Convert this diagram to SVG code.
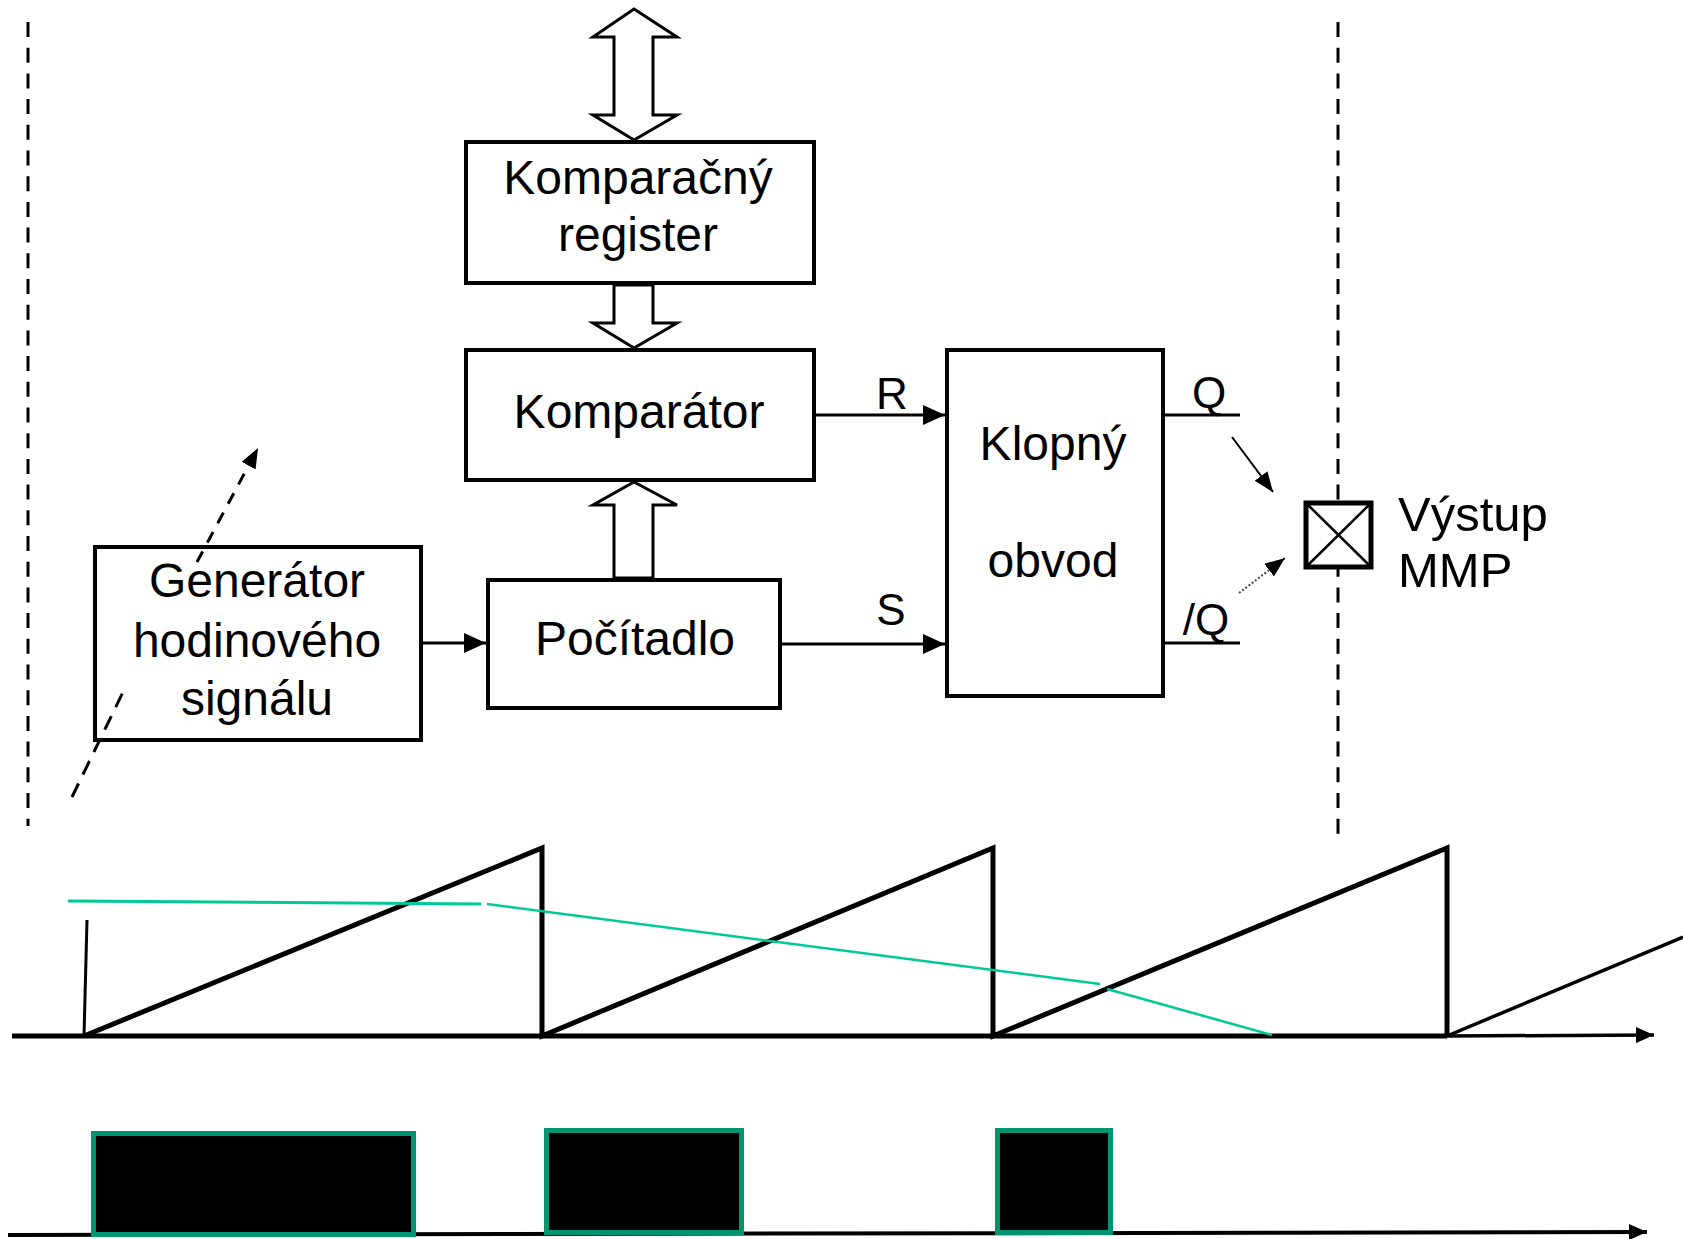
<svg xmlns="http://www.w3.org/2000/svg" width="1683" height="1239" viewBox="0 0 1683 1239">
<defs>
<style>
.box{fill:#fff;stroke:#000;stroke-width:4}
.t{font-family:"Liberation Sans",Arial,sans-serif;font-size:48px;fill:#000;text-anchor:middle}
.lbl{font-family:"Liberation Sans",Arial,sans-serif;font-size:44px;fill:#000;text-anchor:middle}
.bus{fill:#fff;stroke:#000;stroke-width:3;stroke-linejoin:miter}
.wire{fill:none;stroke:#000;stroke-width:3}
.vdash{fill:none;stroke:#000;stroke-width:3;stroke-dasharray:15 10.7}
.saw{fill:none;stroke:#000;stroke-width:5;stroke-linejoin:miter}
.grn{fill:none;stroke:#00c896;stroke-width:2.5}
.pulse{fill:#000;stroke:#009470;stroke-width:5}
</style>
<marker id="ah" markerUnits="userSpaceOnUse" markerWidth="22" markerHeight="20" refX="22" refY="10" orient="auto"><path d="M0,0 L22,10 L0,20 z" fill="#000"/></marker>
<marker id="ahs" markerUnits="userSpaceOnUse" markerWidth="20" markerHeight="16" refX="20" refY="8" orient="auto"><path d="M0,0 L20,8 L0,16 z" fill="#000"/></marker>
<marker id="ax" markerUnits="userSpaceOnUse" markerWidth="18" markerHeight="16" refX="18" refY="8" orient="auto"><path d="M0,0 L18,8 L0,16 z" fill="#000"/></marker>
</defs>
<rect width="1683" height="1239" fill="#fff"/>

<g id="guides">
<line class="vdash" x1="28" y1="22" x2="28" y2="826"/>
<line class="vdash" x1="1338" y1="22" x2="1338" y2="837"/>
</g>

<g id="connectors">
<polygon class="bus" points="634,9 677,37 653,37 653,115 677,115 634,140 593,115 614,115 614,37 593,37"/>
<polygon class="bus" points="614,285 653,285 653,323 677,323 634,348 593,323 614,323"/>
<polygon class="bus" points="634,482 677,505 653,505 653,578 614,578 614,505 593,505"/>
<line class="wire" x1="423" y1="643" x2="486" y2="643" marker-end="url(#ah)"/>
<line class="wire" x1="816" y1="415" x2="945" y2="415" marker-end="url(#ah)"/>
<line class="wire" x1="782" y1="644" x2="945" y2="644" marker-end="url(#ah)"/>
<line class="wire" x1="1165" y1="415" x2="1240" y2="415"/>
<line class="wire" x1="1165" y1="643" x2="1240" y2="643"/>
<line x1="1232" y1="437" x2="1273" y2="492" stroke="#000" stroke-width="2" marker-end="url(#ahs)"/>
<line x1="1239" y1="593" x2="1285" y2="558" stroke="#444" stroke-width="2" stroke-dasharray="2 2" marker-end="url(#ahs)"/>
<line x1="72" y1="797" x2="124" y2="690" stroke="#000" stroke-width="3" stroke-dasharray="15 10"/>
<line x1="197" y1="562" x2="258" y2="448" stroke="#000" stroke-width="3" stroke-dasharray="12 10" marker-end="url(#ahs)"/>
</g>

<g id="komparacny-register">
<rect class="box" x="466" y="142" width="348" height="141"/>
<text class="t" x="638" y="194">Komparačný</text>
<text class="t" x="638" y="251">register</text>
</g>

<g id="komparator">
<rect class="box" x="466" y="350" width="348" height="130"/>
<text class="t" x="639" y="428">Komparátor</text>
</g>

<g id="pocitadlo">
<rect class="box" x="488" y="580" width="292" height="128"/>
<text class="t" x="635" y="655">Počítadlo</text>
</g>

<g id="generator">
<rect class="box" x="95" y="547" width="326" height="193" style="fill:none"/>
<text class="t" x="257" y="597">Generátor</text>
<text class="t" x="257" y="657">hodinového</text>
<text class="t" x="257" y="715">signálu</text>
</g>

<g id="klopny-obvod">
<rect class="box" x="947" y="350" width="216" height="346"/>
<text class="t" x="1053" y="460">Klopný</text>
<text class="t" x="1053" y="577">obvod</text>
</g>

<g id="labels">
<text class="lbl" x="892" y="409">R</text>
<text class="lbl" x="891" y="625">S</text>
<text class="lbl" x="1209" y="408">Q</text>
<text class="lbl" x="1206" y="635">/Q</text>
</g>

<g id="vystup">
<rect x="1306" y="503" width="65" height="64" fill="#fff" stroke="#000" stroke-width="5"/>
<line x1="1306" y1="503" x2="1371" y2="567" stroke="#000" stroke-width="2.5"/>
<line x1="1371" y1="503" x2="1306" y2="567" stroke="#000" stroke-width="2.5"/>
<text x="1398" y="531" font-family="Liberation Sans, Arial, sans-serif" font-size="49" fill="#000">Výstup</text>
<text x="1398" y="587" font-family="Liberation Sans, Arial, sans-serif" font-size="49" fill="#000">MMP</text>
</g>

<g id="waveform">
<line x1="12" y1="1036" x2="1447" y2="1036" stroke="#000" stroke-width="5"/>
<line x1="1447" y1="1036" x2="1654" y2="1035" stroke="#000" stroke-width="3.5" marker-end="url(#ax)"/>
<line x1="87" y1="920" x2="84" y2="1036" stroke="#000" stroke-width="3"/>
<polyline class="saw" points="84,1036 542,848 542,1036 993,848 993,1036 1447,848 1447,1036"/>
<line x1="1447" y1="1036" x2="1683" y2="937" stroke="#000" stroke-width="3.5"/>
<polyline class="grn" style="stroke-width:3" points="68,901 481,904"/>
<polyline class="grn" points="487,904 1100,984"/>
<polyline class="grn" points="1107,989 1272,1035"/>
</g>

<g id="pwm">
<line x1="8" y1="1235" x2="1647" y2="1232" stroke="#000" stroke-width="4" marker-end="url(#ax)"/>
<rect class="pulse" x="93.5" y="1133.5" width="320" height="101"/>
<rect class="pulse" x="546.5" y="1130.5" width="195" height="102"/>
<rect class="pulse" x="997.5" y="1130.5" width="113" height="102"/>
</g>
</svg>
